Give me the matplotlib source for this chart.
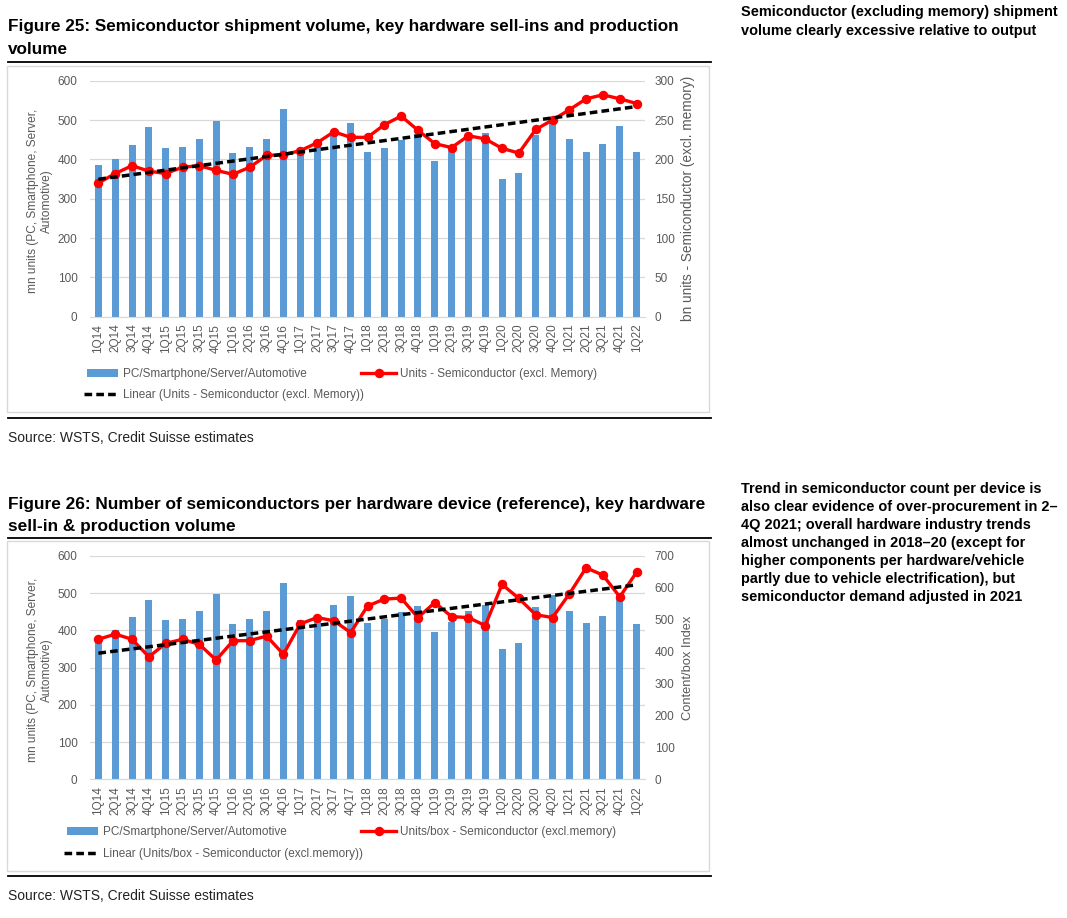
import numpy as np
import matplotlib
matplotlib.use("Agg")
import matplotlib.pyplot as plt
from matplotlib.patches import Rectangle, Patch
from matplotlib.lines import Line2D
from matplotlib import font_manager

# ---------------- data ----------------
quarters = ["1Q14", "2Q14", "3Q14", "4Q14", "1Q15", "2Q15", "3Q15", "4Q15",
            "1Q16", "2Q16", "3Q16", "4Q16", "1Q17", "2Q17", "3Q17", "4Q17",
            "1Q18", "2Q18", "3Q18", "4Q18", "1Q19", "2Q19", "3Q19", "4Q19",
            "1Q20", "2Q20", "3Q20", "4Q20", "1Q21", "2Q21", "3Q21", "4Q21",
            "1Q22"]
hardware_units = [386, 400, 437, 482, 428, 432, 453, 498,
                  416, 432, 453, 527, 429, 435, 468, 493,
                  420, 430, 450, 465, 397, 422, 453, 468,
                  350, 366, 462, 496, 452, 420, 440, 484,
                  418]
semi_units = [170, 182, 192, 185, 182, 190, 192, 186,
              181, 190, 205, 206, 211, 221, 235, 228,
              228, 244, 255, 237, 220, 215, 230, 226,
              214, 208, 238, 250, 263, 277, 282, 277,
              271]
semi_per_box = [439, 455, 439, 384, 426, 439, 423, 374,
                434, 435, 449, 392, 487, 507, 497, 460,
                543, 565, 568, 507, 554, 510, 507, 482,
                611, 567, 516, 507, 581, 663, 640, 572,
                649]

# ---------------- setup ----------------
W, H, DPI = 1067, 918, 100
plt.rcParams['font.family'] = ['Liberation Sans', 'DejaVu Sans']
try:
    font_manager.findfont('Liberation Sans Narrow', fallback_to_default=False)
    TITLE_FAMILY = ['Liberation Sans Narrow', 'Liberation Sans', 'DejaVu Sans']
except Exception:
    TITLE_FAMILY = ['Liberation Sans', 'DejaVu Sans']

fig = plt.figure(figsize=(W / DPI, H / DPI), dpi=DPI)
fig.patch.set_facecolor('white')
renderer = fig.canvas.get_renderer()

GRAY_TXT = '#595959'
GRID = '#D9D9D9'
BLUE = '#5B9BD5'
RED = '#FF0000'
DASH = (0, (2.2, 1.2))


def fx(x):
    return x / W


def fy(y):
    return 1 - y / H


def fit_text(x, y, s, width_px, size0=12, **kw):
    t = fig.text(fx(x), fy(y), s, fontsize=size0, ha='left', va='center', **kw)
    bb = t.get_window_extent(renderer)
    t.set_fontsize(size0 * width_px / bb.width)
    return t


def hline(y, x0=8, x1=711, lw=1.3):
    fig.add_artist(Line2D([fx(x0), fx(x1)], [fy(y), fy(y)], color='black',
                          lw=lw, transform=fig.transFigure))


def box(x0, y0, x1, y1):
    fig.add_artist(Rectangle((fx(x0), fy(y1)), (x1 - x0) / W, (y1 - y0) / H,
                             transform=fig.transFigure, fill=False,
                             edgecolor=GRID, lw=1.0))


def legend_item(handle, label, x, y, hl, pad):
    leg = fig.legend([handle], [label], loc='center left',
                     bbox_to_anchor=(fx(x), fy(y)), frameon=False,
                     fontsize=8.5, borderpad=0, borderaxespad=0,
                     handlelength=hl, handletextpad=pad, labelcolor=GRAY_TXT)
    return leg


def panel(top, bottom, line_vals, ymax2, step2, left_title, right_title, right_fs,
          line_label, trend_label, leg_rows, leg_x):
    ax = fig.add_axes([fx(90), fy(bottom), (645 - 90) / W, (bottom - top) / H])
    x = np.arange(len(quarters))
    ax.bar(x, hardware_units, width=0.42, color=BLUE, zorder=2)
    ax.set_xlim(-0.5, len(quarters) - 0.5)
    ax.set_ylim(0, 600)
    ax.set_yticks(range(0, 601, 100))
    ax.grid(axis='y', color=GRID, lw=0.9, zorder=0)
    ax.set_axisbelow(True)
    for k, s in ax.spines.items():
        s.set_visible(k == 'bottom')
    ax.spines['bottom'].set_color(GRID)
    ax.set_xticks(x)
    ax.set_xticklabels(quarters, rotation=90)
    ax.tick_params(axis='both', length=0, colors=GRAY_TXT, labelsize=8.5)
    ax.tick_params(axis='y', pad=9)
    ax.tick_params(axis='x', pad=5)

    ax2 = ax.twinx()
    ax2.set_ylim(0, ymax2)
    ax2.set_yticks(np.arange(0, ymax2 + 1, step2))
    for s in ax2.spines.values():
        s.set_visible(False)
    ax2.tick_params(axis='y', length=0, colors=GRAY_TXT, labelsize=8.5, pad=7)
    ax2.plot(x, line_vals, color=RED, lw=2.4, marker='o', ms=5.8, zorder=3)
    coef = np.polyfit(x, line_vals, 1)
    ax2.plot(x, np.polyval(coef, x), color='black', lw=2.5, ls=DASH, zorder=4)

    mid = (top + bottom) / 2
    fig.text(fx(40), fy(mid + 2), left_title, rotation=90, ha='center', va='center',
             fontsize=8.6, color=GRAY_TXT, multialignment='center', linespacing=1.15)
    fig.text(fx(688), fy(mid), right_title, rotation=90, ha='center', va='center',
             fontsize=right_fs, color=GRAY_TXT)

    r1, r2 = leg_rows
    legend_item(Patch(facecolor=BLUE), 'PC/Smartphone/Server/Automotive',
                leg_x, r1, 2.6, 0.45)
    legend_item(Line2D([], [], color=RED, lw=2.4, marker='o', ms=5.8),
                line_label, 361, r1, 3.0, 0.3)
    legend_item(Line2D([], [], color='black', lw=2.5, ls=DASH),
                trend_label, leg_x - 3, r2, 3.0, 0.3)


# ---------------- figure 25 ----------------
t1 = fit_text(8, 27, 'Figure 25: Semiconductor shipment volume, key hardware sell-ins and production',
              667, color='black', weight='bold', family=TITLE_FAMILY)
fig.text(fx(8), fy(50), 'volume', fontsize=t1.get_fontsize(), ha='left',
         va='center', weight='bold', color='black', family=TITLE_FAMILY)
hline(62)
box(7, 66, 709, 412)
panel(80.7, 316.7, semi_units, 300, 50,
      'mn units (PC, Smartphone, Server,\nAutomotive)',
      'bn units - Semiconductor (excl. memory)', 9.8,
      'Units - Semiconductor (excl. Memory)',
      'Linear (Units - Semiconductor (excl. Memory))',
      (374, 395), 87)
hline(418)
src1 = fit_text(8, 438, 'Source: WSTS, Credit Suisse estimates', 245, color='#222222')

# ---------------- figure 26 ----------------
t2 = fit_text(8, 504, 'Figure 26: Number of semiconductors per hardware device (reference), key hardware',
              696, color='black', weight='bold', family=TITLE_FAMILY)
fig.text(fx(8), fy(527), 'sell-in & production volume', fontsize=t2.get_fontsize(),
         ha='left', va='center', weight='bold', color='black', family=TITLE_FAMILY)
hline(538)
box(7, 541, 709, 871)
panel(556, 779.3, semi_per_box, 700, 100,
      'mn units (PC, Smartphone, Server,\nAutomotive)',
      'Content/box Index', 9.3,
      'Units/box - Semiconductor (excl.memory)',
      'Linear (Units/box - Semiconductor (excl.memory))',
      (832, 854), 67)
hline(876)
fig.text(fx(8), fy(896), 'Source: WSTS, Credit Suisse estimates',
         fontsize=src1.get_fontsize(), ha='left', va='center', color='#222222')

# ---------------- side notes ----------------
n1 = fit_text(741, 12, 'Semiconductor (excluding memory) shipment', 314,
              color='black', weight='bold')
fs = n1.get_fontsize()
fig.text(fx(741), fy(31), 'volume clearly excessive relative to output', fontsize=fs,
         ha='left', va='center', weight='bold', color='black')

note2 = ["Trend in semiconductor count per device is",
         "also clear evidence of over-procurement in 2\u2013",
         "4Q 2021; overall hardware industry trends",
         "almost unchanged in 2018\u201320 (except for",
         "higher components per hardware/vehicle",
         "partly due to vehicle electrification), but",
         "semiconductor demand adjusted in 2021"]
for i, line in enumerate(note2):
    fig.text(fx(741), fy(489 + 18 * i), line, fontsize=fs, ha='left', va='center',
             weight='bold', color='black')

fig.savefig('out.png', dpi=DPI, facecolor='white')
